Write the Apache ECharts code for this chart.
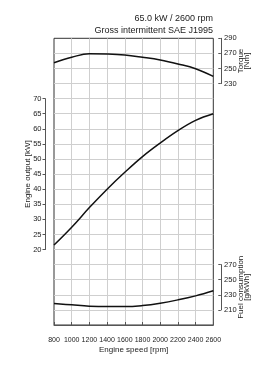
<!DOCTYPE html>
<html><head><meta charset="utf-8">
<script src="https://cdn.jsdelivr.net/npm/echarts@6/dist/echarts.min.js"></script>
<style>html,body{margin:0;padding:0;background:#fff}#c{width:269px;height:380px}</style>
</head><body><div id="c"></div>
<script>
var rpm = [800, 1000, 1200, 1400, 1600, 1800, 2000, 2200, 2400, 2600];
var torque = [257.6, 264.8, 269.6, 269.2, 267.8, 264.8, 261.2, 256.0, 249.7, 239.5];
var power = [21.5, 27.4, 33.9, 40.0, 45.6, 50.8, 55.3, 59.4, 62.8, 65.0];
var fuel = [218.5, 216.7, 215.0, 214.4, 214.4, 215.8, 218.9, 223.3, 228.6, 235.3];
var titleLines = ["65.0 kW / 2600 rpm", "Gross intermittent SAE J1995"];

var FF = 'Liberation Sans, Arial, sans-serif';
var L = 54, W = 159.3, T = 38.3, H = 286.7, P = H / 19;
function pairs(ys){ return rpm.map(function(x,i){return [x, ys[i]];}); }
function hx(i){ return {gridIndex:i, type:'value', min:800, max:2600, show:false}; }
var lineStyle = {color:'#111', width:1.5};
var axLine = {show:true, lineStyle:{color:'#555', width:1}};
var lab = {fontSize:7.5, color:'#222', fontFamily:FF};
var nameSt = {fontSize:8, color:'#222', fontFamily:FF, lineHeight:6.5};
function plain(v){ return String(v); }

var chart = echarts.init(document.getElementById('c'), null, {renderer:'canvas'});
chart.setOption({
  animation:false,
  title:[
    {text:titleLines[0], right:56, top:13, padding:0, textStyle:{fontSize:9, fontWeight:'normal', color:'#222', fontFamily:FF, lineHeight:12}},
    {text:titleLines[1], right:56, top:25, padding:0, textStyle:{fontSize:9, fontWeight:'normal', color:'#222', fontFamily:FF, lineHeight:12}}
  ],
  grid:[
    {left:L, top:T, width:W, height:H, show:true, borderColor:'#333', borderWidth:1, backgroundColor:'transparent'},
    {left:L, top:T + 4*P, width:W, height:10*P},
    {left:L, top:T, width:W, height:3*P},
    {left:L, top:T + 15*P, width:W, height:3*P}
  ],
  xAxis:[
    {gridIndex:0, type:'value', min:800, max:2600, interval:200, offset:10,
     axisLine:axLine, axisTick:{show:true, inside:true, length:3, lineStyle:{color:'#555'}},
     axisLabel:{fontSize:7, color:'#222', fontFamily:FF, margin:2, formatter:plain, hideOverlap:false},
     splitLine:{show:true, showMinLine:false, showMaxLine:false, lineStyle:{color:'#cfcfcf', width:1}},
     name:'Engine speed [rpm]', nameLocation:'middle', nameGap:10.5, nameMoveOverlap:false, nameTextStyle:{fontSize:8, color:'#222', fontFamily:FF}},
    hx(1), hx(2), hx(3)
  ],
  yAxis:[
    {gridIndex:0, type:'value', min:0, max:19, interval:1, axisLine:{show:false}, axisTick:{show:false}, axisLabel:{show:false},
     splitLine:{show:true, showMinLine:false, showMaxLine:false, lineStyle:{color:'#cfcfcf', width:1}}},
    {gridIndex:1, type:'value', position:'left', offset:9, min:20, max:70, interval:5,
     axisLine:axLine, axisTick:{show:true, inside:false, length:2.5, lineStyle:{color:'#555'}},
     axisLabel:Object.assign({margin:3.5}, lab), splitLine:{show:false},
     name:'Engine output [kW]', nameLocation:'middle', nameRotate:90, nameGap:13.5, nameMoveOverlap:false, nameTextStyle:{fontSize:8, color:'#222', fontFamily:FF}},
    {gridIndex:2, type:'value', position:'right', offset:7.5, min:230, max:290, interval:20,
     axisLine:axLine, axisTick:{show:true, inside:true, length:2.5, lineStyle:{color:'#555'}},
     axisLabel:Object.assign({margin:3.3}, lab), splitLine:{show:false},
     name:'Torque\n[Nm]', nameLocation:'middle', nameRotate:90, nameGap:16.5, nameMoveOverlap:false, nameTextStyle:nameSt},
    {gridIndex:3, type:'value', position:'right', offset:7.5, min:210, max:270, interval:20,
     axisLine:axLine, axisTick:{show:true, inside:true, length:2.5, lineStyle:{color:'#555'}},
     axisLabel:Object.assign({margin:3.3}, lab), splitLine:{show:false},
     name:'Fuel consumption\n[g/kWh]', nameLocation:'middle', nameRotate:90, nameGap:16.5, nameMoveOverlap:false, nameTextStyle:nameSt}
  ],
  series:[
    {type:'line', xAxisIndex:1, yAxisIndex:1, data:pairs(power), smooth:0.4, showSymbol:false, lineStyle:lineStyle},
    {type:'line', xAxisIndex:2, yAxisIndex:2, data:pairs(torque), smooth:0.4, showSymbol:false, lineStyle:lineStyle},
    {type:'line', xAxisIndex:3, yAxisIndex:3, data:pairs(fuel), smooth:0.4, showSymbol:false, lineStyle:lineStyle}
  ]
});
</script></body></html>
